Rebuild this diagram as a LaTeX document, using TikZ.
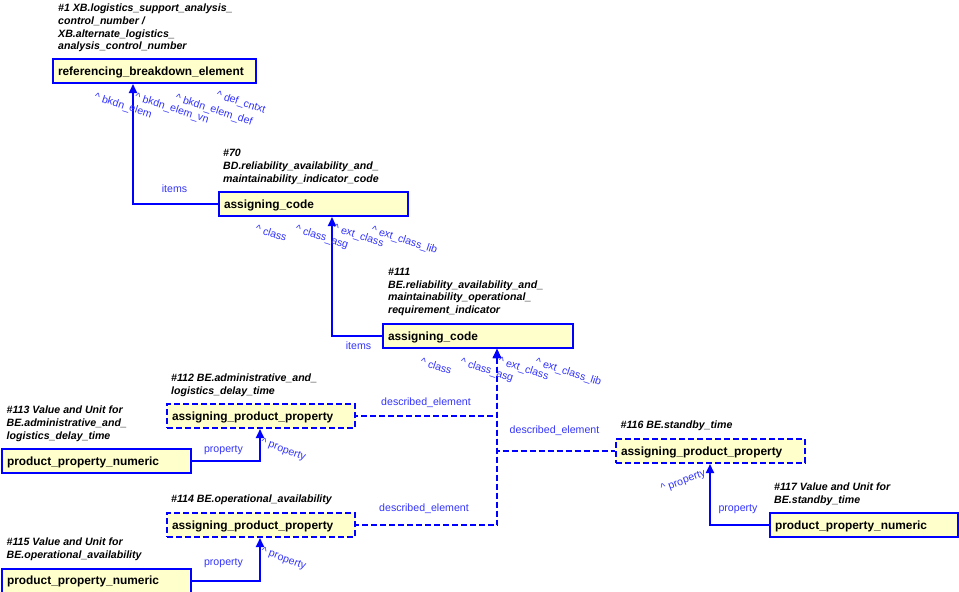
\documentclass[tikz,border=0pt]{standalone}
\usepackage{fontspec}
\setmainfont{Liberation Sans}
\usetikzlibrary{arrows.meta}
\definecolor{lineblue}{RGB}{0,0,255}
\definecolor{lblblue}{RGB}{51,51,255}
\definecolor{boxfill}{RGB}{255,255,204}
\tikzset{
 ent/.style={draw=lineblue, fill=boxfill, line width=2pt, anchor=north west, inner xsep=5pt, inner ysep=0pt, minimum height=24pt, text height=8.6pt, text depth=0pt, align=left, font=\fontsize{11.9}{14}\selectfont\bfseries},
 dent/.style={ent, dash pattern=on 6pt off 3pt},
 ttl/.style={anchor=north west, inner sep=0pt, align=left, font=\fontsize{10.6}{12.7}\selectfont\bfseries\itshape},
 lbl/.style={text=lblblue, inner sep=0pt, font=\fontsize{10.6}{12.7}\selectfont},
 rlbl/.style={lbl, anchor=north west, rotate=-18},
 conn/.style={draw=lineblue, line width=2pt, -{Triangle[width=8pt,length=9pt]}},
 dconn/.style={draw=lineblue, line width=2pt, dash pattern=on 6pt off 3pt, {Triangle[width=8pt,length=9pt]}-},
}
\begin{document}
\begin{tikzpicture}[x=1pt,y=-1pt]
\useasboundingbox (0,0) rectangle (959,592);
% entity boxes
\node[ent, text width=193pt] (b1) at (52,58) {referencing\_breakdown\_element};
\node[ent, text width=179pt] (b2) at (218,191) {assigning\_code};
\node[ent, text width=180pt] (b3) at (382,323) {assigning\_code};
\node[dent, text width=178pt] (b4) at (166,403) {assigning\_product\_property};
\node[ent, text width=179pt] (b5) at (1,448) {product\_property\_numeric};
\node[dent, text width=179pt] (b6) at (615,438) {assigning\_product\_property};
\node[ent, text width=178pt] (b7) at (769,512) {product\_property\_numeric};
\node[dent, text width=178pt] (b8) at (166,512) {assigning\_product\_property};
\node[ent, text width=179pt] (b9) at (1,567.5) {product\_property\_numeric};
% titles
\node[ttl] (t1) at (58,3.8) {\#1 XB.logistics\_support\_analysis\_\\control\_number /\\XB.alternate\_logistics\_\\analysis\_control\_number};
\node[ttl] (t70) at (223,149) {\#70\\BD.reliability\_availability\_and\_\\maintainability\_indicator\_code};
\node[ttl] (t111) at (388,268) {\#111\\BE.reliability\_availability\_and\_\\maintainability\_operational\_\\requirement\_indicator};
\node[ttl] (t112) at (171,374) {\#112 BE.administrative\_and\_\\logistics\_delay\_time};
\node[ttl] (t113) at (6.5,406) {\#113 Value and Unit for\\BE.administrative\_and\_\\logistics\_delay\_time};
\node[ttl] (t114) at (171,495) {\#114 BE.operational\_availability};
\node[ttl] (t115) at (6.5,537.5) {\#115 Value and Unit for\\BE.operational\_availability};
\node[ttl] (t116) at (620.5,421) {\#116 BE.standby\_time};
\node[ttl] (t117) at (774,482.5) {\#117 Value and Unit for\\BE.standby\_time};
% connectors
\draw[conn] (b2.west) -| ([xshift=81pt]b1.south west);
\draw[conn] (b3.west) -| ([xshift=114pt]b2.south west);
\draw[dconn] ([xshift=115pt]b3.south west) |- (b8.east);
\draw[dconn] ([xshift=115pt]b3.south west) |- (b4.east);
\draw[dconn] ([xshift=115pt]b3.south west) |- (b6.west);
\draw[conn] (b5.east) -| ([xshift=94pt]b4.south west);
\draw[conn] (b9.east) -| ([xshift=94pt]b8.south west);
\draw[conn] (b7.west) -| ([xshift=95pt]b6.south west);
% connector labels
\node[lbl] (l1) at (174.5,189) {items};
\node[lbl] (l2) at (358.5,346) {items};
\node[lbl] (l3) at (223.5,450) {property};
\node[lbl] (l4) at (223.5,563.3) {property};
\node[lbl] (l5) at (738,508.7) {property};
\node[lbl] (l6) at (426,402.7) {described\_element};
\node[lbl] (l7) at (554.5,431) {described\_element};
\node[lbl] (l8) at (424,508.3) {described\_element};
% role labels
\node[rlbl] (r1) at (96,92) {\textasciicircum\ bkdn\_elem};
\node[rlbl] (r2) at (136.7,92) {\textasciicircum\ bkdn\_elem\_vn};
\node[rlbl] (r3) at (177,93) {\textasciicircum\ bkdn\_elem\_def};
\node[rlbl] (r4) at (218,90) {\textasciicircum\ def\_cntxt};
\node[rlbl] (r5) at (257,224) {\textasciicircum\ class};
\node[rlbl] (r6) at (297,224) {\textasciicircum\ class\_asg};
\node[rlbl] (r7) at (335,223) {\textasciicircum\ ext\_class};
\node[rlbl] (r8) at (373,225) {\textasciicircum\ ext\_class\_lib};
\node[rlbl] (r9) at (422,357) {\textasciicircum\ class};
\node[rlbl] (r10) at (462,357) {\textasciicircum\ class\_asg};
\node[rlbl] (r11) at (500,356) {\textasciicircum\ ext\_class};
\node[rlbl] (r12) at (537,357) {\textasciicircum\ ext\_class\_lib};
\node[rlbl, rotate=-2] (r13) at (262.7,437) {\textasciicircum\ property};
\node[rlbl, rotate=-2] (r14) at (263,546) {\textasciicircum\ property};
\node[lbl, anchor=base west, rotate=20] (r15) at (662,492) {\textasciicircum\ property};
\end{tikzpicture}
\end{document}
